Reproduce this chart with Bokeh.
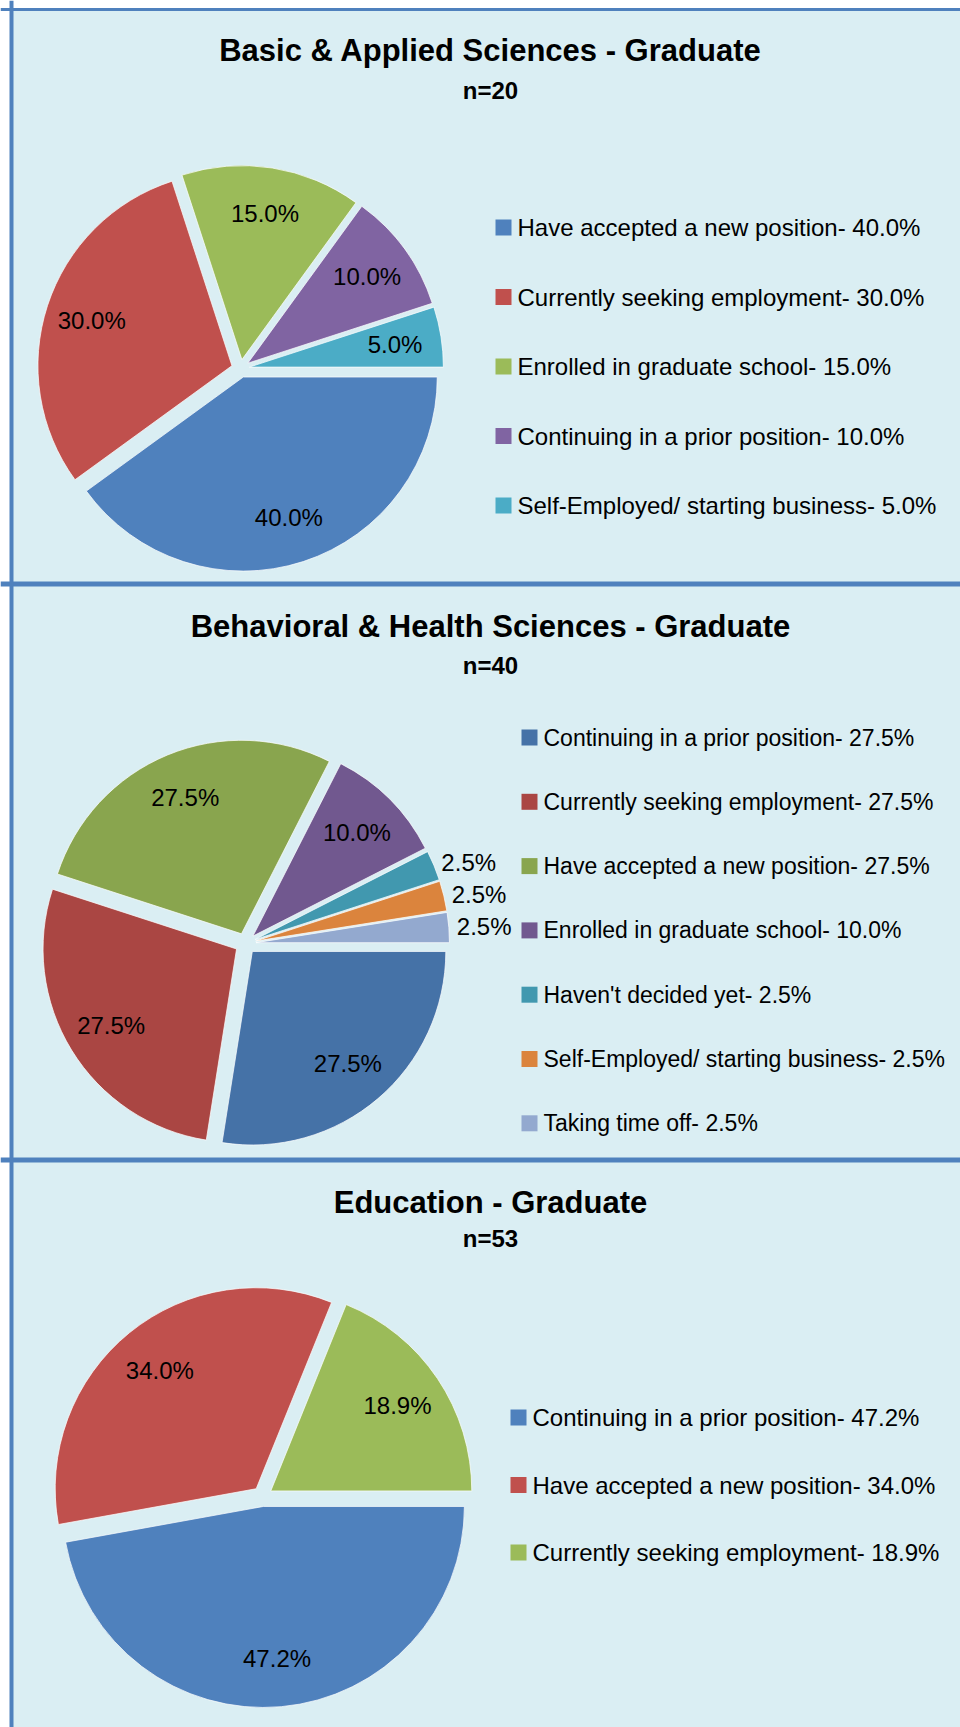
import math
from bokeh.plotting import figure
from bokeh.models import ColumnDataSource, Range1d, Span
from bokeh.core.properties import value
from bokeh.embed import file_html
from bokeh.resources import INLINE

# ---------------- data ----------------
titles = ["Basic & Applied Sciences - Graduate",
          "Behavioral & Health Sciences - Graduate",
          "Education - Graduate"]
n_counts = [20, 40, 53]

basic_categories = ["Have accepted a new position", "Currently seeking employment",
                    "Enrolled in graduate school", "Continuing in a prior position",
                    "Self-Employed/ starting business"]
basic_values = [40.0, 30.0, 15.0, 10.0, 5.0]
basic_colors = ["#4F81BD", "#C0504D", "#9BBB59", "#8064A2", "#4BACC6"]

behav_categories = ["Continuing in a prior position", "Currently seeking employment",
                    "Have accepted a new position", "Enrolled in graduate school",
                    "Haven't decided yet", "Self-Employed/ starting business",
                    "Taking time off"]
behav_values = [27.5, 27.5, 27.5, 10.0, 2.5, 2.5, 2.5]
behav_colors = ["#4572A7", "#AA4643", "#89A54E", "#71588F", "#4198AF", "#DB843D", "#93A9CF"]

edu_categories = ["Continuing in a prior position", "Have accepted a new position",
                  "Currently seeking employment"]
edu_values = [47.2, 34.0, 18.9]
edu_colors = ["#4F81BD", "#C0504D", "#9BBB59"]

# ---------------- style / layout ----------------
BG = "#DAEEF3"
BORDER = "#4F81BD"
FONT = "Liberation Sans"
FIG_W, FIG_H = 960, 1727


def Y(v):
    # page pixel row -> data y (data y grows upwards, 1 unit = 1 px)
    return FIG_H - v


panels = [
    dict(cats=basic_categories, vals=basic_values, colors=basic_colors,
         cx=240, cy=368, r=194, d=9, title_y=50, n_y=90,
         sq_x=503, txt_x=517, leg_y0=227, leg_dy=69.5, leg_font="24px"),
    dict(cats=behav_categories, vals=behav_values, colors=behav_colors,
         cx=245, cy=943, r=193.5, d=10.5, title_y=626, n_y=665,
         sq_x=529, txt_x=543, leg_y0=737, leg_dy=64.3, leg_font="23px"),
    dict(cats=edu_categories, vals=edu_values, colors=edu_colors,
         cx=262, cy=1496, r=201, d=10, title_y=1202, n_y=1238,
         sq_x=518, txt_x=532, leg_y0=1417, leg_dy=67.5, leg_font="24px"),
]

p = figure(width=FIG_W, height=FIG_H,
           x_range=Range1d(0, FIG_W), y_range=Range1d(0, FIG_H),
           output_backend="svg", toolbar_location=None, min_border=0,
           x_axis_location=None, y_axis_location=None,
           background_fill_color="white", border_fill_color="white",
           outline_line_color=None)
p.grid.visible = False

# panel background + borders
p.quad(left=[11], right=[FIG_W], bottom=[0], top=[Y(9)], fill_color=BG, line_color=None)
p.add_layout(Span(location=Y(9), dimension="width", line_color=BORDER, line_width=3))
p.add_layout(Span(location=Y(583.5), dimension="width", line_color=BORDER, line_width=5))
p.add_layout(Span(location=Y(1159.5), dimension="width", line_color=BORDER, line_width=5))
p.add_layout(Span(location=11, dimension="height", line_color=BORDER, line_width=4))

LABEL_FRAC = 0.76
TITLE_X = 490

for i, pn in enumerate(panels):
    vals = pn["vals"]
    total = sum(vals)
    cx, cy, r, d = pn["cx"], Y(pn["cy"]), pn["r"], pn["d"]
    xs, ys, starts, ends = [], [], [], []
    in_x, in_y, in_t = [], [], []
    out_x, out_y, out_t = [], [], []
    cum = 0.0
    for v in vals:
        c0 = cum / total
        cum += v
        c1 = cum / total
        start = -2 * math.pi * c1
        end = -2 * math.pi * c0
        mid = (start + end) / 2
        ox = cx + d * math.cos(mid)
        oy = cy + d * math.sin(mid)
        xs.append(ox); ys.append(oy); starts.append(start); ends.append(end)
        lab = f"{v:.1f}%"
        if v >= 5:
            in_x.append(ox + LABEL_FRAC * r * math.cos(mid))
            in_y.append(oy + LABEL_FRAC * r * math.sin(mid))
            in_t.append(lab)
        else:
            R = r + d + 8
            out_x.append(cx + R * math.cos(mid))
            out_y.append(cy + R * math.sin(mid))
            out_t.append(lab)

    src = ColumnDataSource(dict(x=xs, y=ys, start=starts, end=ends, color=pn["colors"]))
    p.wedge(x="x", y="y", radius=r, start_angle="start", end_angle="end",
            fill_color="color", line_color="white", line_alpha=0.7, line_width=1,
            source=src)

    p.text(x=in_x, y=in_y, text=in_t, text_font=value(FONT), text_font_size="24px",
           text_align="center", text_baseline="middle", text_color="black")
    if out_t:
        p.text(x=out_x, y=out_y, text=out_t, text_font=value(FONT), text_font_size="24px",
               text_align="left", text_baseline="middle", text_color="black")

    # titles
    p.text(x=[TITLE_X], y=[Y(pn["title_y"])], text=[titles[i]], text_font=value(FONT),
           text_font_size="31px", text_font_style="bold", text_align="center",
           text_baseline="middle", text_color="black")
    p.text(x=[TITLE_X], y=[Y(pn["n_y"])], text=[f"n={n_counts[i]}"], text_font=value(FONT),
           text_font_size="24px", text_font_style="bold", text_align="center",
           text_baseline="middle", text_color="black")

    # legend
    ly = [Y(pn["leg_y0"] + k * pn["leg_dy"]) for k in range(len(vals))]
    lt = [f"{c}- {v:.1f}%" for c, v in zip(pn["cats"], vals)]
    p.scatter(x=[pn["sq_x"]] * len(vals), y=ly, marker="square", size=16,
              fill_color=pn["colors"], line_color=None)
    p.text(x=[pn["txt_x"]] * len(vals), y=ly, text=lt, text_font=value(FONT),
           text_font_size=pn["leg_font"], text_align="left", text_baseline="middle",
           text_color="black")

open("out.html", "w").write(file_html(p, INLINE))
